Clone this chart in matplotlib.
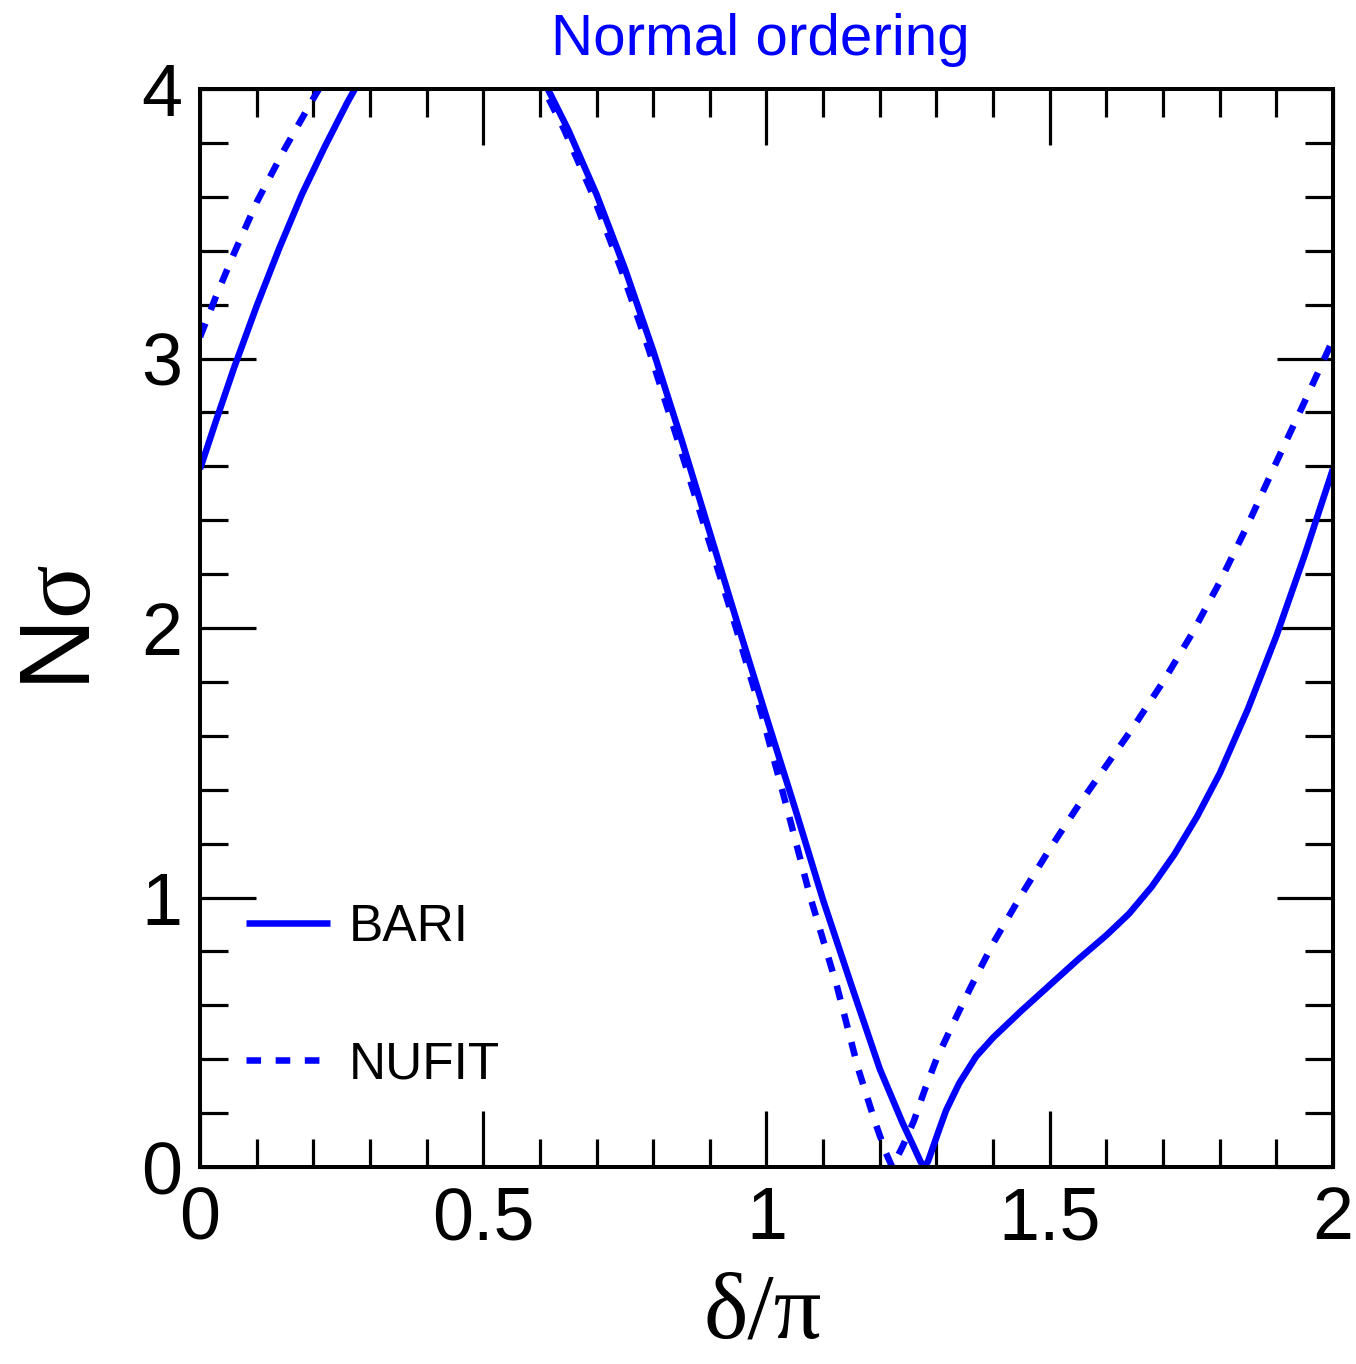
import numpy as np
import matplotlib
matplotlib.use("Agg")
import matplotlib.pyplot as plt
from matplotlib.ticker import MultipleLocator

plt.rcParams["lines.scale_dashes"] = False
plt.rcParams["mathtext.fontset"] = "custom"
plt.rcParams["mathtext.rm"] = "Liberation Serif"
plt.rcParams["mathtext.sf"] = "Liberation Sans"

# delta/pi and N-sigma values; NaN marks the stretch above the plotted range
bari_x = [0.00, 0.03, 0.06, 0.10, 0.14, 0.18, 0.22, 0.26, 0.30, np.nan,
          0.60, 0.614, 0.65, 0.70, 0.75, 0.80, 0.85, 0.90, 0.95, 1.00,
          1.05, 1.10, 1.15, 1.20, 1.24, 1.26, 1.272, 1.278, 1.285, 1.295,
          1.305, 1.317, 1.34, 1.37, 1.40, 1.45, 1.50, 1.55, 1.60, 1.64,
          1.68, 1.72, 1.76, 1.80, 1.85, 1.90, 1.95, 2.00]
bari_y = [2.59, 2.78, 2.965, 3.195, 3.41, 3.61, 3.785, 3.95, 4.10, np.nan,
          4.06, 4.00, 3.849, 3.609, 3.334, 3.029, 2.699, 2.354, 2.009, 1.669,
          1.334, 0.99, 0.674, 0.364, 0.165, 0.075, 0.02, 0.0, 0.02, 0.08,
          0.14, 0.21, 0.31, 0.41, 0.48, 0.58, 0.675, 0.77, 0.86, 0.94,
          1.04, 1.16, 1.30, 1.46, 1.70, 1.97, 2.27, 2.59]

nufit_x = [0.00, 0.03, 0.06, 0.10, 0.15, 0.20, 0.25, np.nan,
           0.593, 0.607, 0.643, 0.693, 0.743, 0.793, 0.843, 0.894, 0.945,
           0.993, 1.036, 1.077, 1.124, 1.162, 1.192, 1.211, 1.222, 1.24,
           1.26, 1.28, 1.30, 1.33, 1.36, 1.40, 1.45, 1.50, 1.55, 1.60,
           1.65, 1.70, 1.75, 1.80, 1.85, 1.90, 1.95, 2.00]
nufit_y = [3.08, 3.24, 3.39, 3.58, 3.78, 3.965, 4.14, np.nan,
           4.06, 4.00, 3.849, 3.609, 3.334, 3.029, 2.699, 2.354, 2.009,
           1.669, 1.334, 1.004, 0.674, 0.364, 0.165, 0.052, 0.0, 0.075,
           0.17, 0.29, 0.40, 0.535, 0.665, 0.83, 1.01, 1.18, 1.34, 1.49,
           1.64, 1.80, 1.975, 2.17, 2.385, 2.615, 2.84, 3.07]

x_ticks = [0, 0.5, 1, 1.5, 2]
x_tick_labels = ["0", "0.5", "1", "1.5", "2"]
y_ticks = [0, 1, 2, 3, 4]
y_tick_labels = ["0", "1", "2", "3", "4"]

BLUE = "#0000ff"
SANS = "Liberation Sans"

fig = plt.figure(figsize=(13.56, 13.64), dpi=100)
ax = fig.add_axes([0.1475, 0.1444, 0.8355, 0.7903])

ax.plot(bari_x, bari_y, color=BLUE, lw=4.7, solid_capstyle="butt",
        solid_joinstyle="round", label="BARI")
ax.plot(nufit_x, nufit_y, color=BLUE, lw=4.7, dashes=(10.5, 10.5),
        dash_capstyle="butt", label="NUFIT")

ax.set_xlim(0, 2)
ax.set_ylim(0, 4)

ax.set_xticks(x_ticks)
ax.set_xticklabels(x_tick_labels)
ax.set_yticks(y_ticks)
ax.set_yticklabels(y_tick_labels)
ax.xaxis.set_minor_locator(MultipleLocator(0.1))
ax.yaxis.set_minor_locator(MultipleLocator(0.2))

ax.tick_params(which="both", direction="in", top=True, right=True,
               color="black")
ax.tick_params(which="major", length=40, width=2.3, labelsize=53, pad=13)
ax.tick_params(which="minor", length=20, width=2.3)
for lab in ax.get_xticklabels() + ax.get_yticklabels():
    lab.set_family(SANS)

for sp in ax.spines.values():
    sp.set_linewidth(2.9)

ax.set_xlabel("δ/π", family="Liberation Serif", fontsize=68,
              va="baseline")
ax.xaxis.set_label_coords(0.497, -0.158)
ax.set_ylabel("$\\mathsf{N}\\mathrm{\\sigma}$", fontsize=72)
ax.yaxis.set_label_coords(-0.079, 0.5)

leg = ax.legend(loc="upper left", bbox_to_anchor=(0.0406, 0.2450),
                frameon=False, fontsize=37, handlelength=1.63,
                handletextpad=0.36, labelspacing=1.72, borderpad=0,
                borderaxespad=0)
for t in leg.get_texts():
    t.set_family(SANS)

fig.text(0.5605, 1 - 55 / 1364, "Normal ordering", color=BLUE,
         fontsize=42, family=SANS, ha="center", va="baseline")

fig.savefig("out.png", dpi=100)
